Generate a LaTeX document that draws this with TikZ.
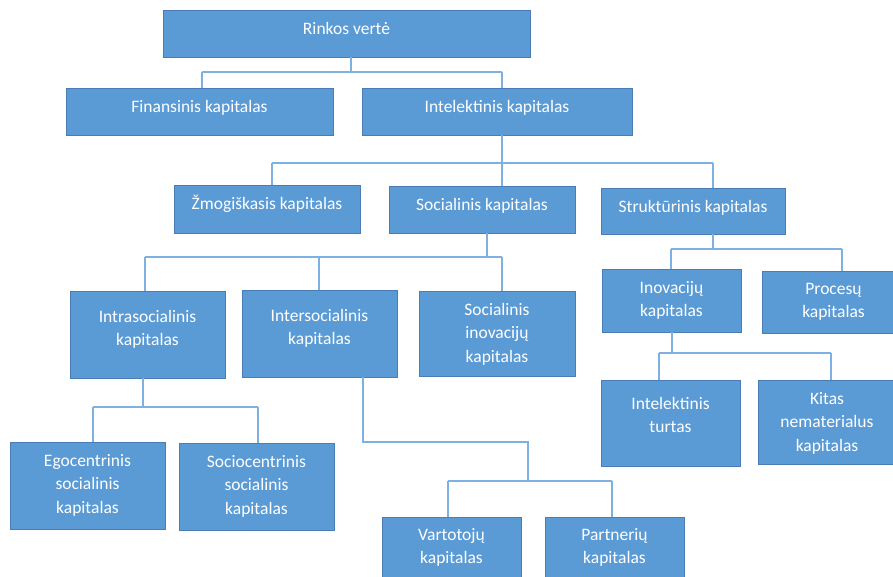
\documentclass[tikz,border=0pt]{standalone}
\usepackage{fontspec}
\setmainfont{Carlito}
\definecolor{boxfill}{HTML}{5B9BD5}
\definecolor{boxedge}{HTML}{4A7DB5}
\definecolor{linkcol}{HTML}{7DB1E3}
\tikzset{
  boxst/.style={draw=boxedge, fill=boxfill, line width=0.9pt, inner sep=0pt, rectangle},
  lblst/.style={text=white, align=center, inner sep=0pt,
    font=\fontsize{17.5}{23.5}\selectfont},
  conn/.style={draw=linkcol, line width=1.6pt}
}
% #1 name, #2 x1, #3 y1, #4 x2, #5 y2, #6 offset of first text line, #7 text
\newcommand{\orgbox}[7]{%
  \node[boxst, minimum width={#4-#2}, minimum height={#5-#3}] (#1) at ({(#2+#4)/2},{(#3+#5)/2}) {};
  \node[lblst, anchor=north] (#1-t) at ({(#2+#4)/2},{#3+#6-11.5}) {\strut #7};
}
\begin{document}
\begin{tikzpicture}[x=1pt, y=-1pt]
\useasboundingbox (0,0) rectangle (893,576);
\clip (0,0) rectangle (893,576);
\fill[white] (0,0) rectangle (893,576);

% junction points of the connector buses
\coordinate (a0) at (351,72);  \coordinate (a1) at (202,72);  \coordinate (a2) at (502,72);
\coordinate (b0) at (502,163); \coordinate (b1) at (272,163); \coordinate (b2) at (713,163);
\coordinate (c0) at (487,257); \coordinate (c1) at (145,257); \coordinate (c2) at (319,257); \coordinate (c3) at (502,257);
\coordinate (d0) at (713,249); \coordinate (d1) at (671,249); \coordinate (d2) at (842,249);
\coordinate (e0) at (672,353); \coordinate (e1) at (659,353); \coordinate (e2) at (831,353);
\coordinate (f0) at (143,407); \coordinate (f1) at (93,407);  \coordinate (f2) at (258,407);
\coordinate (g0) at (363,442); \coordinate (g1) at (528,442);
\coordinate (h0) at (528,481); \coordinate (h1) at (448,481); \coordinate (h2) at (612,481);

% boxes
\orgbox{rv}{163}{10}{530}{57}{19}{Rinkos vertė}
\orgbox{fk}{66}{88}{333}{135}{19}{Finansinis kapitalas}
\orgbox{ik}{362}{88}{632}{135}{19}{Intelektinis kapitalas}
\orgbox{zk}{174}{185}{360}{233}{19}{Žmogiškasis kapitalas}
\orgbox{sk}{389}{186}{575}{233}{19}{Socialinis kapitalas}
\orgbox{stk}{601}{188}{785}{234}{19}{Struktūrinis kapitalas}
\orgbox{intra}{70}{291}{225}{378}{26}{Intrasocialinis\\kapitalas}
\orgbox{inter}{242}{290}{397}{377}{26}{Intersocialinis\\kapitalas}
\orgbox{sik}{419}{291}{575}{376}{19}{Socialinis\\inovacijų\\kapitalas}
\orgbox{ino}{602}{269}{741}{332}{19}{Inovacijų\\kapitalas}
\orgbox{pro}{762}{271}{905}{333}{18}{Procesų\\kapitalas}
\orgbox{it}{601}{380}{740}{466}{24}{Intelektinis\\turtas}
\orgbox{kit}{758}{380}{896}{464}{19}{Kitas\\nematerialus\\kapitalas}
\orgbox{ego}{10}{442}{165}{529}{19}{Egocentrinis\\socialinis\\kapitalas}
\orgbox{soc}{179}{443}{334}{530}{19}{Sociocentrinis\\socialinis\\kapitalas}
\orgbox{var}{382}{517}{521}{590}{18}{Vartotojų\\kapitalas}
\orgbox{par}{545}{517}{684}{590}{18}{Partnerių\\kapitalas}

% connectors
\draw[conn] (rv.south -| a0) -- (a0);
\draw[conn] (a1) -- (a2);
\draw[conn] (a1) -- (fk.north -| a1);
\draw[conn] (a2) -- (ik.north -| a2);

\draw[conn] (ik.south -| b0) -- (b0);
\draw[conn] (b1) -- (b2);
\draw[conn] (b1) -- (zk.north -| b1);
\draw[conn] (b0) -- (sk.north -| b0);
\draw[conn] (b2) -- (stk.north -| b2);

\draw[conn] (sk.south -| c0) -- (c0);
\draw[conn] (c1) -- (c3);
\draw[conn] (c1) -- (intra.north -| c1);
\draw[conn] (c2) -- (inter.north -| c2);
\draw[conn] (c3) -- (sik.north -| c3);

\draw[conn] (stk.south -| d0) -- (d0);
\draw[conn] (d1) -- (d2);
\draw[conn] (d1) -- (ino.north -| d1);
\draw[conn] (d2) -- (pro.north -| d2);

\draw[conn] (ino.south -| e0) -- (e0);
\draw[conn] (e1) -- (e2);
\draw[conn] (e1) -- (it.north -| e1);
\draw[conn] (e2) -- (kit.north -| e2);

\draw[conn] (intra.south -| f0) -- (f0);
\draw[conn] (f1) -- (f2);
\draw[conn] (f1) -- (ego.north -| f1);
\draw[conn] (f2) -- (soc.north -| f2);

\draw[conn] (inter.south -| g0) -- (g0) -- (g1) -- (h0);
\draw[conn] (h1) -- (h2);
\draw[conn] (h1) -- (var.north -| h1);
\draw[conn] (h2) -- (par.north -| h2);
\end{tikzpicture}
\end{document}
